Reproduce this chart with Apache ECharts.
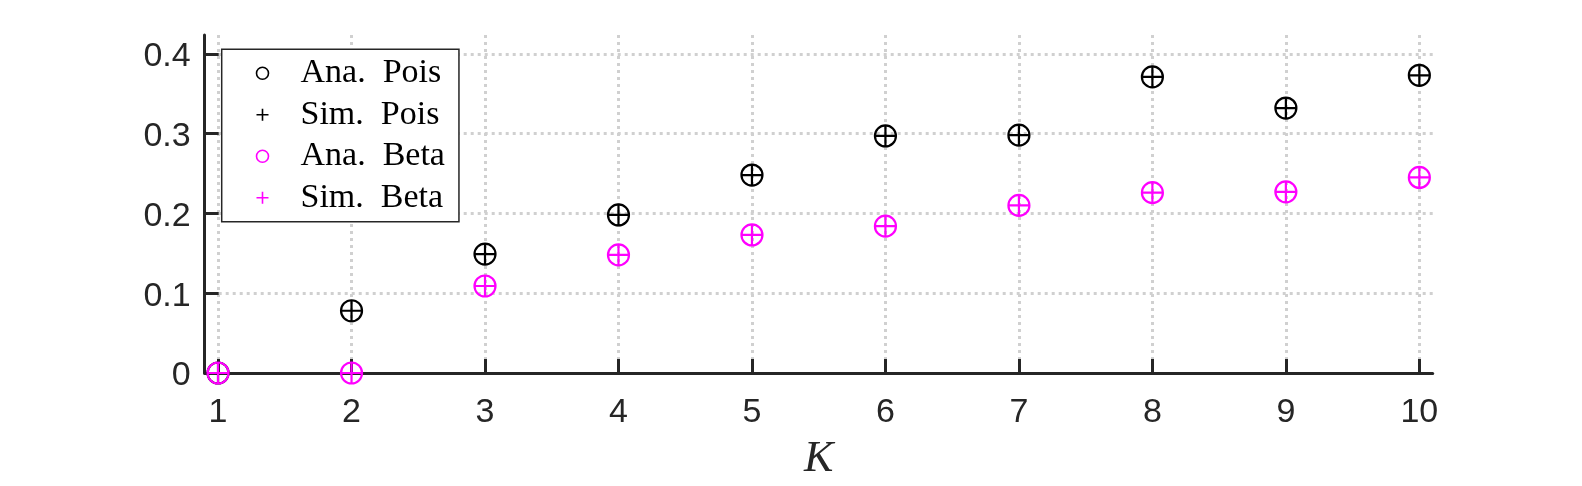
<!DOCTYPE html>
<html>
<head>
<meta charset="utf-8">
<script src="https://cdn.jsdelivr.net/npm/echarts@6/dist/echarts.min.js"></script>
<style>
  html, body { margin: 0; padding: 0; background: #fff; }
  #chart { width: 1582px; height: 486px; }
</style>
</head>
<body>
<div id="chart"></div>
<script>
// ---- data ----
const kValues = [1, 2, 3, 4, 5, 6, 7, 8, 9, 10];
const anaPois = [0, 0.078, 0.149, 0.198, 0.248, 0.297, 0.298, 0.371, 0.332, 0.373];
const simPois = [0, 0.078, 0.149, 0.198, 0.248, 0.297, 0.298, 0.371, 0.332, 0.373];
const anaBeta = [0, 0, 0.109, 0.148, 0.173, 0.184, 0.210, 0.226, 0.227, 0.245];
const simBeta = [0, 0, 0.109, 0.148, 0.173, 0.184, 0.210, 0.226, 0.227, 0.245];
const xTicks = [1, 2, 3, 4, 5, 6, 7, 8, 9, 10];
const yTicks = [0, 0.1, 0.2, 0.3, 0.4];
const seriesNames = ['Ana.\u2002Pois', 'Sim.\u2002Pois', 'Ana.\u2002Beta', 'Sim.\u2002Beta'];

const pair = (ys) => kValues.map((k, i) => [k, ys[i]]);
const PLUS = 'path://M10,0L10,20M0,10L20,10';
const BLACK = '#000000';
const MAGENTA = '#ff00ff';
const AX = '#262626';

const chart = echarts.init(document.getElementById('chart'), null, { renderer: 'canvas' });

function circleSeries(name, data, color) {
  return {
    name, type: 'scatter', data, symbol: 'circle', symbolSize: 21,
    itemStyle: { color: 'rgba(0,0,0,0)', borderColor: color, borderWidth: 2.2, opacity: 1 },
    emphasis: { disabled: true }, z: 3
  };
}
function plusSeries(name, data, color) {
  return {
    name, type: 'scatter', data, symbol: PLUS, symbolSize: 21,
    itemStyle: { color: 'rgba(0,0,0,0)', borderColor: color, borderWidth: 2.2, opacity: 1 },
    emphasis: { disabled: true }, z: 3
  };
}

chart.setOption({
  animation: false,
  backgroundColor: '#ffffff',
  grid: { left: 204.7, right: 149.3, top: 35, bottom: 109.3, containLabel: false },
  xAxis: {
    type: 'value', min: 0.9, max: 10.1,
    name: 'K', nameLocation: 'middle', nameGap: 64,
    nameTextStyle: { fontFamily: 'Liberation Serif', fontStyle: 'italic', fontSize: 44, color: AX },
    axisLine: { show: true, onZero: false, lineStyle: { color: AX, width: 3 } },
    axisTick: { show: true, inside: true, length: 14, customValues: xTicks, lineStyle: { color: AX, width: 3 } },
    axisLabel: { customValues: xTicks, fontFamily: 'Liberation Sans', fontSize: 34, color: AX, margin: 23 },
    splitLine: { show: true, lineStyle: { color: '#d0d0d0', width: 3, type: [3, 4] } }
  },
  yAxis: {
    type: 'value', min: 0, max: 0.4235,
    axisLine: { show: true, onZero: false, lineStyle: { color: AX, width: 3 } },
    axisTick: { show: true, inside: true, length: 14, customValues: yTicks, lineStyle: { color: AX, width: 3 } },
    axisLabel: { customValues: yTicks, color: AX, margin: 14,
      formatter: (v) => '{a|' + String(v) + '}',
      rich: { a: { fontFamily: 'Liberation Sans', fontSize: 34, color: AX, lineHeight: 34, padding: [6, 0, 0, 0] } } },
    splitLine: { show: true, lineStyle: { color: '#d0d0d0', width: 3, type: [3, 4] } }
  },
  legend: {
    orient: 'vertical', left: 221.7, top: 49.3,
    backgroundColor: '#ffffff', borderColor: AX, borderWidth: 1.5, borderRadius: 0,
    padding: [7, 14, 7, 34],
    itemWidth: 12, itemHeight: 12, itemGap: 7.5,
    selectedMode: false,
    textStyle: { fontFamily: 'Liberation Serif', fontSize: 34, color: '#000', lineHeight: 33, padding: [0, 0, 0, 27] },
    data: [
      { name: seriesNames[0], icon: 'circle', itemStyle: { color: 'rgba(0,0,0,0)', borderColor: BLACK, borderWidth: 1.6 } },
      { name: seriesNames[1], icon: PLUS, itemStyle: { color: 'rgba(0,0,0,0)', borderColor: BLACK, borderWidth: 1.6 } },
      { name: seriesNames[2], icon: 'circle', itemStyle: { color: 'rgba(0,0,0,0)', borderColor: MAGENTA, borderWidth: 1.6 } },
      { name: seriesNames[3], icon: PLUS, itemStyle: { color: 'rgba(0,0,0,0)', borderColor: MAGENTA, borderWidth: 1.6 } }
    ]
  },
  series: [
    circleSeries(seriesNames[0], pair(anaPois), BLACK),
    plusSeries(seriesNames[1], pair(simPois), BLACK),
    circleSeries(seriesNames[2], pair(anaBeta), MAGENTA),
    plusSeries(seriesNames[3], pair(simBeta), MAGENTA)
  ]
});
</script>
</body>
</html>
